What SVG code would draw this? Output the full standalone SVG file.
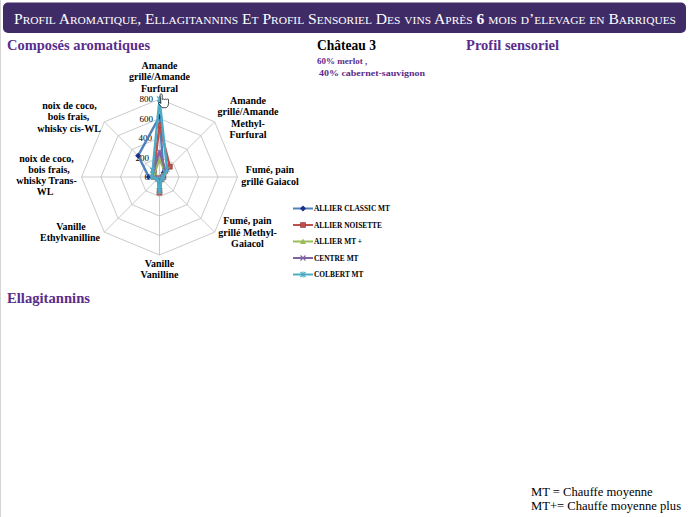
<svg xmlns="http://www.w3.org/2000/svg" width="689" height="517" viewBox="0 0 689 517">
<style>
.ttl{font-family:"Liberation Serif",serif;font-size:15px;fill:#ffffff;font-variant:small-caps;}
.h{font-family:"Liberation Serif",serif;font-size:14px;font-weight:bold;fill:#5a2d8c;}
.hk{font-family:"Liberation Serif",serif;font-size:14px;font-weight:bold;fill:#000000;}
.sub{font-family:"Liberation Serif",serif;font-size:9px;font-weight:bold;fill:#5a2d8c;}
.ax{font-family:"Liberation Serif",serif;font-size:10px;font-weight:bold;fill:#000000;text-anchor:middle;}
.val{font-family:"Liberation Serif",serif;font-size:9px;fill:#000000;text-anchor:end;}
.lg{font-family:"Liberation Serif",serif;font-size:7.4px;font-weight:bold;fill:#000000;}
.note{font-family:"Liberation Serif",serif;font-size:12.6px;fill:#000000;}
.grid{fill:none;stroke:#bdbdbd;stroke-width:0.8;}
.ser{fill:none;stroke-width:2.4;stroke-linejoin:round;}
</style>
<defs>
<marker id="mDia" viewBox="-3 -3 6 6" markerWidth="6" markerHeight="6" refX="0" refY="0" markerUnits="userSpaceOnUse" overflow="visible"><path d="M0,-3L3,0L0,3L-3,0Z" fill="#1a2f86"/></marker>
<marker id="mSq" viewBox="-3 -3 6 6" markerWidth="6" markerHeight="6" refX="0" refY="0" markerUnits="userSpaceOnUse" overflow="visible"><path d="M-2.5,-2.5h5v5h-5z" fill="#c0504d" stroke="#8c3836" stroke-width="0.6"/></marker>
<marker id="mTri" viewBox="-3 -3 6 6" markerWidth="6" markerHeight="6" refX="0" refY="0" markerUnits="userSpaceOnUse" overflow="visible"><path d="M0,-3L3,2.5H-3Z" fill="#9bbb59"/></marker>
<marker id="mX" viewBox="-3 -3 6 6" markerWidth="6" markerHeight="6" refX="0" refY="0" markerUnits="userSpaceOnUse" overflow="visible"><path d="M-2.5,-2.5L2.5,2.5M2.5,-2.5L-2.5,2.5" stroke="#8064a2" stroke-width="1.1"/></marker>
<marker id="mStar" viewBox="-3 -3 6 6" markerWidth="6" markerHeight="6" refX="0" refY="0" markerUnits="userSpaceOnUse" overflow="visible"><path d="M-2.5,-2.5L2.5,2.5M2.5,-2.5L-2.5,2.5M0,-3V3" stroke="#4bacc6" stroke-width="1.1"/></marker>
</defs>
<rect x="0" y="0" width="689" height="517" fill="#ffffff"/>
<line x1="0.5" y1="0" x2="0.5" y2="517" stroke="#d4d4d4" stroke-width="1"/>

<g id="title">
<rect x="3" y="2.5" width="683" height="30.5" rx="5" fill="#3f2b66"/>
<text class="ttl" x="14" y="24" textLength="662" lengthAdjust="spacingAndGlyphs">Profil Aromatique, Ellagitannins Et Profil Sensoriel Des vins Après <tspan font-weight="bold">6</tspan> mois d’elevage en Barriques</text>
</g>

<g id="headings">
<text class="h" x="7" y="50" textLength="143" lengthAdjust="spacingAndGlyphs">Composés aromatiques</text>
<text class="hk" x="317" y="50" textLength="59" lengthAdjust="spacingAndGlyphs">Château 3</text>
<text class="h" x="466" y="50" textLength="93" lengthAdjust="spacingAndGlyphs">Profil sensoriel</text>
<text class="sub" x="317" y="64">60% merlot ,</text>
<text class="sub" x="319" y="76" textLength="106" lengthAdjust="spacingAndGlyphs">40% cabernet-sauvignon</text>
<text class="h" x="7" y="303" textLength="83" lengthAdjust="spacingAndGlyphs">Ellagitannins</text>
</g>

<g id="radar-chart">
<g id="radar-grid" transform="translate(159.5,177)">
<polygon class="grid" points="0,-78 55.15,-55.15 78,0 55.15,55.15 0,78 -55.15,55.15 -78,0 -55.15,-55.15"/>
<polygon class="grid" points="0,-58.5 41.37,-41.37 58.5,0 41.37,41.37 0,58.5 -41.37,41.37 -58.5,0 -41.37,-41.37"/>
<polygon class="grid" points="0,-39 27.58,-27.58 39,0 27.58,27.58 0,39 -27.58,27.58 -39,0 -27.58,-27.58"/>
<polygon class="grid" points="0,-19.5 13.79,-13.79 19.5,0 13.79,13.79 0,19.5 -13.79,13.79 -19.5,0 -13.79,-13.79"/>
<path class="grid" d="M0,0V-78M0,0L55.15,-55.15M0,0H78M0,0L55.15,55.15M0,0V78M0,0L-55.15,55.15M0,0H-78M0,0L-55.15,-55.15"/>
</g>
<g id="radar-values">
<text class="val" x="153" y="102">800</text>
<text class="val" x="153" y="121.5">600</text>
<text class="val" x="152" y="141">400</text>
<text class="val" x="149" y="160.5">200</text>
<text class="val" x="149" y="180">0</text>
</g>
<g id="series" transform="translate(159.5,177)">
<polygon id="s-allier-classic" class="ser" stroke="#4f81bd" marker-start="url(#mDia)" marker-mid="url(#mDia)" points="0,-60.45 4.14,-4.14 2.93,0 1.38,1.38 0,11.7 -1.38,1.38 -10.73,0 -21.37,-21.37"/>
<polygon id="s-allier-noisette" class="ser" stroke="#c0504d" marker-start="url(#mSq)" marker-mid="url(#mSq)" points="0,-51.68 10.34,-10.34 3.9,0 2.07,2.07 0,15.6 -1.38,1.38 -5.85,0 -5.52,-5.52"/>
<polygon id="s-allier-mt-plus" class="ser" stroke="#9bbb59" marker-start="url(#mTri)" marker-mid="url(#mTri)" points="0,-17.55 5.52,-5.52 2.93,0 1.38,1.38 0,13.65 -1.38,1.38 -5.85,0 -4.83,-4.83"/>
<polygon id="s-centre-mt" class="ser" stroke="#8064a2" marker-start="url(#mX)" marker-mid="url(#mX)" points="0,-25.35 6.2,-6.2 2.93,0 1.38,1.38 0,13.65 -1.38,1.38 -7.8,0 -6.2,-6.2"/>
<polygon id="s-colbert-mt" class="ser" stroke="#4bacc6" marker-start="url(#mStar)" marker-mid="url(#mStar)" points="0,-78 7.58,-7.58 3.9,0 2.07,2.07 0,14.63 -2.07,2.07 -7.8,0 -6.89,-6.89"/>
</g>
<path id="cursor" d="M160,94.5q1,-1.6 2.2,0v5q1.1,-1 2.1,0q1.1,-1 2.1,0q1.1,-1 2.1,0v4.2q0,3 -2.2,4h-4.3l-3.2,-4.2q-0.6,-1.6 1.1,-1l1.1,1z" fill="#ffffff" stroke="#000000" stroke-width="0.7"/>
<g id="axis-labels">
<text class="ax" x="159.5" y="68.5">Amande</text>
<text class="ax" x="159.5" y="80">grillé/Amande</text>
<text class="ax" x="159.5" y="91.5">Furfural</text>
<text class="ax" x="248" y="103.5">Amande</text>
<text class="ax" x="248" y="115">grillé/Amande</text>
<text class="ax" x="248" y="126.5">Methyl-</text>
<text class="ax" x="248" y="138">Furfural</text>
<text class="ax" x="270" y="173">Fumé, pain</text>
<text class="ax" x="270" y="184.5">grillé Gaiacol</text>
<text class="ax" x="247.5" y="224">Fumé, pain</text>
<text class="ax" x="247.5" y="235.5">grillé Methyl-</text>
<text class="ax" x="247.5" y="247">Gaiacol</text>
<text class="ax" x="159.5" y="266.5">Vanille</text>
<text class="ax" x="159.5" y="277.5">Vanilline</text>
<text class="ax" x="71" y="230">Vanille</text>
<text class="ax" x="70" y="241">Ethylvanilline</text>
<text class="ax" x="46.5" y="162">noix de coco,</text>
<text class="ax" x="49" y="172.5">bois frais,</text>
<text class="ax" x="46.5" y="184">whisky Trans-</text>
<text class="ax" x="45" y="195">WL</text>
<text class="ax" x="69.5" y="109">noix de coco,</text>
<text class="ax" x="68.5" y="120">bois frais,</text>
<text class="ax" x="69" y="131.5">whisky cis-WL</text>
</g>
</g>

<g id="legend">
<polyline points="293,208.5 303,208.5 313,208.5" fill="none" stroke="#4f81bd" stroke-width="2" marker-mid="url(#mDia)"/>
<text class="lg" x="314" y="211">ALLIER CLASSIC MT</text>
<polyline points="293,225 303,225 313,225" fill="none" stroke="#c0504d" stroke-width="2" marker-mid="url(#mSq)"/>
<text class="lg" x="314" y="227.5">ALLIER NOISETTE</text>
<polyline points="293,241.5 303,241.5 313,241.5" fill="none" stroke="#9bbb59" stroke-width="2" marker-mid="url(#mTri)"/>
<text class="lg" x="314" y="244">ALLIER MT +</text>
<polyline points="293,258 303,258 313,258" fill="none" stroke="#8064a2" stroke-width="2" marker-mid="url(#mX)"/>
<text class="lg" x="314" y="260.5">CENTRE MT</text>
<polyline points="293,274.5 303,274.5 313,274.5" fill="none" stroke="#4bacc6" stroke-width="2" marker-mid="url(#mStar)"/>
<text class="lg" x="314" y="277">COLBERT MT</text>
</g>

<g id="notes">
<text class="note" x="531" y="496">MT = Chauffe moyenne</text>
<text class="note" x="531" y="510">MT+= Chauffe moyenne plus</text>
</g>
</svg>
